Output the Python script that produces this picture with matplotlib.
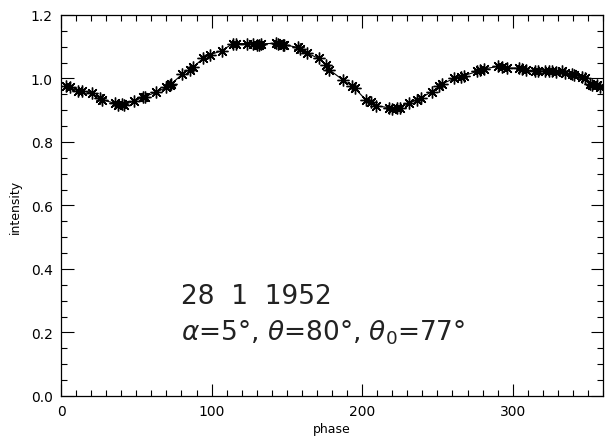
import matplotlib.pyplot as plt
import numpy as np

# phase / intensity
phase = [3, 6, 11.5, 13.7, 20.7, 25.8, 27, 35.8, 38, 40.2, 42, 48.3, 54.5, 55.6,
         63.4, 70, 72.2, 73.3, 80.6, 85.4, 87.6, 94.3, 98.7, 107, 114.1, 116,
         123.6, 127.4, 130, 131.8, 132.9, 142.8, 144, 147.2, 148.3, 157.2, 159,
         163.1, 171.5, 176, 178.1, 187, 193.6, 195, 202.4, 205.7, 209.5, 217.9,
         220, 223.4, 225, 231.1, 236.6, 238.8, 246.1, 251, 253.2, 261, 265.4,
         267.5, 276.4, 278, 280.8, 290.3, 293, 296.2, 304, 306, 308.8, 315, 317,
         321.7, 324, 326, 329, 332.7, 335, 339.3, 341, 345.9, 348, 351.5, 353,
         355.9, 358.1]
intensity = [0.975, 0.972, 0.960, 0.962, 0.953, 0.937, 0.933, 0.922, 0.918, 0.920,
             0.918, 0.928, 0.941, 0.943, 0.957, 0.972, 0.978, 0.983, 1.014, 1.028,
             1.035, 1.063, 1.074, 1.088, 1.110, 1.110, 1.110, 1.109, 1.106, 1.106,
             1.109, 1.111, 1.108, 1.106, 1.106, 1.098, 1.092, 1.080, 1.063, 1.043,
             1.028, 0.996, 0.975, 0.970, 0.933, 0.927, 0.914, 0.908, 0.905, 0.908,
             0.908, 0.922, 0.933, 0.938, 0.958, 0.975, 0.983, 1.000, 1.004, 1.009,
             1.022, 1.026, 1.030, 1.038, 1.036, 1.033, 1.033, 1.030, 1.027, 1.022,
             1.022, 1.025, 1.022, 1.022, 1.020, 1.022, 1.018, 1.014, 1.010, 1.004,
             1.000, 0.983, 0.978, 0.980, 0.972]

fig = plt.figure(figsize=(6.12, 4.39), dpi=100)
ax = fig.add_axes([0.0997, 0.0957, 0.8856, 0.8679])

ax.plot(phase, intensity, color='black', linewidth=0.8,
        marker=(8, 2, 0), markersize=8.5, markeredgewidth=1.0)

ax.set_xlim(0, 360)
ax.set_ylim(0, 1.2)
ax.set_xticks([0, 100, 200, 300])
ax.set_xticks(np.arange(0, 361, 10), minor=True)
ax.set_yticks(np.arange(0, 1.21, 0.2))
ax.set_yticklabels(['0.0', '0.2', '0.4', '0.6', '0.8', '1.0', '1.2'])
ax.set_yticks(np.arange(0, 1.21, 0.05), minor=True)
ax.tick_params(which='both', direction='in', top=True, right=True,
               labelsize=10, width=0.8)
ax.tick_params(which='major', length=9, pad=6)
ax.tick_params(which='minor', length=4.5)
for s in ax.spines.values():
    s.set_linewidth(0.9)

ax.set_xlabel('phase', fontsize=9, labelpad=3)
ax.set_ylabel('intensity', fontsize=9, labelpad=6)

ax.text(80, 0.293, '28  1  1952', fontsize=19, color='#222222')
ax.text(80, 0.178, r'$\alpha$=5°, $\theta$=80°, $\theta_0$=77°',
        fontsize=19, color='#222222')

fig.savefig('out.png', dpi=100)
